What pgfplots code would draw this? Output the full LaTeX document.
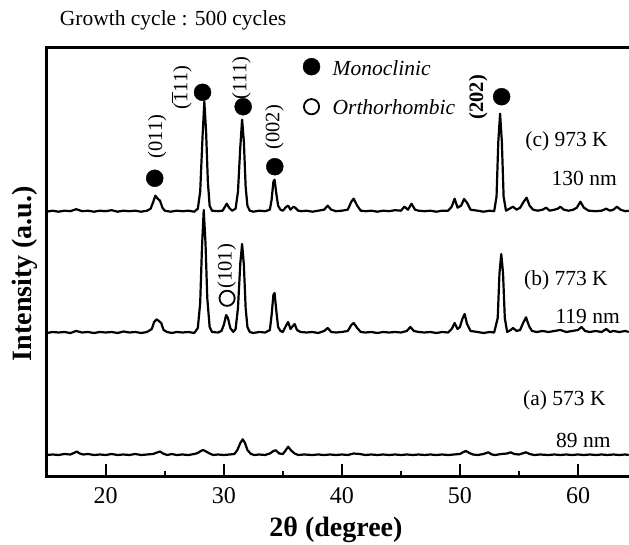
\documentclass[border=0pt]{standalone}
\usepackage{pgfplots}
\usepackage{pgfplotstable}
\pgfplotsset{compat=1.18}
\usepackage{fontspec}
\setmainfont{Liberation Serif}

\pgfplotstableread{
x y
15.0 0
15.5 1
16.0 0
16.5 1
17.0 0.5
17.5 2.5
18.0 0.5
18.5 1
19.0 0
19.5 1
20.0 0.5
20.5 1.5
21.0 0
21.5 1
22.0 0.5
22.5 1
23.0 0
23.5 1
23.8 3
24.0 9
24.2 16
24.4 13
24.6 11
24.8 4
25.0 1
25.5 0
26.0 1
26.5 0.5
27.0 1
27.5 0
27.8 3
28.0 20
28.2 75
28.35 110
28.5 80
28.65 30
28.8 6
29.0 1
29.5 0.5
29.9 1
30.1 5
30.25 8
30.45 4
30.7 1
31.0 3
31.2 20
31.4 65
31.55 92
31.7 70
31.85 25
32.0 6
32.2 1
32.5 0
33.0 1
33.5 0.5
33.9 2
34.05 12
34.2 30
34.3 32
34.45 18
34.6 6
34.8 2
35.0 1
35.3 5
35.45 6
35.65 2
35.9 5
36.05 4
36.3 1
36.6 0.5
37.0 1
37.5 0
38.0 1
38.5 2
38.8 6
39.1 2
39.5 0.5
40.0 1
40.5 2
40.8 10
41.0 13
41.3 6
41.6 1
42.0 0.5
42.5 1
43.0 0
43.5 1
44.0 0.5
44.5 1.5
45.0 1
45.3 5
45.6 2
45.9 8
46.2 2
46.5 1
47.0 0.5
47.5 1
48.0 0
48.5 1
49.0 1
49.3 5
49.55 13
49.8 4
50.1 6
50.35 12.7
50.6 9
50.9 2
51.5 1
52.0 0
52.5 1
52.9 0.5
53.1 15
53.25 70
53.4 98
53.55 70
53.7 15
53.9 1
54.2 3
54.5 5
54.8 2
55.1 4
55.4 10
55.65 14
55.9 6
56.2 2
56.6 1
57.0 2
57.3 4
57.6 1
58.0 2
58.3 3
58.5 5
58.8 2
59.2 1
59.6 2
59.9 4
60.2 10
60.5 4
60.9 1
61.5 0.5
62.0 1
62.4 3
62.7 1
63.0 2
63.3 5
63.6 2
64.0 0.5
64.3 1
}\datac

\pgfplotstableread{
x y
15.0 0
15.5 1
16 0.5
16.5 1
17 0
17.5 2
18 0.5
18.5 1
19 0
19.5 1
20 0.5
20.5 1
21 0
21.5 1.5
22 0.5
22.5 1
23 0
23.5 1
23.9 4
24.1 11
24.3 13.7
24.5 12
24.7 10
24.9 3
25.2 1
25.6 0
26 1
26.5 0.5
27 1
27.5 0
27.8 5
28.0 30
28.15 85
28.3 123
28.45 90
28.6 35
28.8 6
29.0 1
29.5 0.5
29.8 2
30.0 8
30.2 18
30.35 15
30.55 5
30.8 1
31.0 4
31.2 25
31.4 70
31.55 89
31.7 68
31.85 25
32.0 6
32.2 1
32.5 0
33 1
33.5 0.5
33.9 3
34.05 18
34.2 38
34.3 40
34.45 22
34.6 6
34.8 2
35.0 1
35.3 8
35.45 11
35.65 4
35.85 7
36.0 9
36.2 3
36.5 1
37 0.5
37.5 1
38 0
38.5 2
38.8 5
39.1 1
39.5 0.5
40 1
40.5 2
40.8 8
41.0 10
41.3 5
41.6 1
42 0.5
42.5 1
43 0
43.5 1
44 0.5
44.5 1
45 0.5
45.5 2
45.8 6
46.1 2
46.5 1
47 0.5
47.5 1
48 0
48.5 1
49 0.5
49.3 4
49.55 10
49.8 4
50.0 6
50.2 14
50.4 19
50.6 9
50.9 2
51.5 1
52 0
52.5 1
52.9 0.5
53.2 15
53.35 60
53.5 79
53.65 60
53.8 15
54.0 1
54.3 3
54.5 5
54.8 2
55.1 3
55.35 10
55.6 15.7
55.85 7
56.1 2
56.5 1
57 2
57.5 1
58 2
58.5 3
59 1
59.5 2
60 3
60.3 6
60.6 2
61 1
61.5 2
62 1
62.4 4
62.7 1
63 2
63.5 1
64 2
64.3 1
}\datab

\pgfplotstableread{
x y
15 0
15.5 0.5
16 0
16.5 1
17 0.5
17.3 2
17.55 3.5
17.8 1.5
18.1 0.5
18.5 1
19 0
19.5 0.5
20 0
20.5 1
21 0
21.5 0.5
22 0
22.5 1
23 0
23.5 0.5
24 1
24.35 2.5
24.6 3.5
24.85 1.5
25.2 0
25.6 1
26 0
26.5 0.5
27 0
27.5 1
27.8 2
28.05 4
28.25 5
28.5 3.5
28.8 1.5
29.1 0
29.5 0.5
30 0
30.5 0.5
30.9 1
31.15 5
31.4 12
31.6 15.7
31.8 12
32.0 5
32.3 1
32.6 0
33 0.5
33.5 0
33.9 1.5
34.2 4
34.4 4.7
34.7 1.5
35.0 1
35.2 4
35.45 8.3
35.7 4.5
36.0 1.5
36.3 0
36.8 0.5
37.5 0
38 0.5
38.5 0
39 0.5
39.5 0
40 0.5
40.5 0
41 1.5
41.5 1
42 0
42.5 0.5
43 0
43.5 0.5
44 0
44.5 0.5
45 0
45.5 0.5
46 0
46.5 0.5
47 0
47.5 0.5
48 0
48.5 0.5
49 0
49.5 0.5
50 1
50.3 3
50.5 4
50.8 2
51.1 0.5
51.5 0
52 1
52.4 2.7
52.7 0.5
53 0
53.5 1
54 1.5
54.3 2.7
54.6 1
55 0.5
55.4 2
55.6 2.7
55.9 1
56.3 0
56.8 0.5
57.5 0
58 0.5
58.5 0
59 0.5
59.5 0
60 0.5
60.5 0
61 0.5
61.5 0
62 0.5
62.5 0
63 0.5
63.5 0
64 0.5
64.3 0
}\dataa

\newcommand{\txt}{\fontsize{21.5}{24}\selectfont}
\newcommand{\rtxt}{\fontsize{20.5}{24}\selectfont}

\begin{document}
\begin{tikzpicture}
\begin{axis}[
  name=main,
  scale only axis,
  width=582.3pt, height=429.4pt,
  xmin=15, xmax=64.32, ymin=0, ymax=429.4,
  clip=false,
  axis line style={draw=none},
  xtick={20,30,40,50,60},
  minor xtick={25,35,45,55},
  xtick pos=left,
  ytick=\empty,
  tick align=inside,
  major tick length=12.7pt,
  minor tick length=6pt,
  every tick/.style={black, line width=1.9pt},
  /pgf/number format/assume math mode=true,
  xticklabel style={font=\fontsize{24}{24}\selectfont, yshift=-7pt},
]
\draw[line width=2.8pt, line cap=rect] (rel axis cs:1,1) -- (rel axis cs:0,1) -- (rel axis cs:0,0) -- (rel axis cs:1,0);

\addplot[black, line width=2.2pt, line join=round] table[x=x, y expr=\thisrow{y}+265] {\datac};
\addplot[black, line width=2.2pt, line join=round] table[x=x, y expr=\thisrow{y}+143.7] {\datab};
\addplot[black, line width=2.2pt, line join=round] table[x=x, y expr=\thisrow{y}+21.7] {\dataa};

% phase markers
\addplot[only marks, mark=*, mark size=8.5pt, black] coordinates {
  (24.15,298.4) (28.2,384.4) (31.64,370) (34.32,310) (53.53,380) (37.43,410)};
\addplot[only marks, mark=o, mark size=7.6pt, black, mark options={line width=1.8pt}] coordinates {
  (30.28,178.4) (37.43,370)};

% reflection labels
\node[rotate=90, anchor=west, inner sep=0pt, font=\rtxt] at (axis cs:24.35,318) {(011)};
\node[rotate=90, anchor=west, inner sep=0pt, font=\rtxt] at (axis cs:26.45,367) {($\overline{\mbox{1}}$11)};
\node[rotate=90, anchor=west, inner sep=0pt, font=\rtxt] at (axis cs:31.5,377) {(111)};
\node[rotate=90, anchor=west, inner sep=0pt, font=\rtxt] at (axis cs:34.3,327) {(002)};
\node[rotate=90, anchor=west, inner sep=0pt, font=\rtxt\bfseries] at (axis cs:51.55,357) {(202)};
\node[rotate=90, anchor=west, inner sep=0pt, font=\rtxt] at (axis cs:30.25,188) {(101)};

% legend
\node[anchor=west, inner sep=0pt, font=\txt\itshape] at (axis cs:39.2,409) {Monoclinic};
\node[anchor=west, inner sep=0pt, font=\txt\itshape] at (axis cs:39.2,370) {Orthorhombic};

% sample labels
\node[anchor=east, inner sep=0pt, font=\txt] at (axis cs:62.54,335) {(c) 973 K};
\node[anchor=east, inner sep=0pt, font=\txt] at (axis cs:63.3,298.4) {130 nm};
\node[anchor=east, inner sep=0pt, font=\txt] at (axis cs:62.54,196.7) {(b) 773 K};
\node[anchor=east, inner sep=0pt, font=\txt] at (axis cs:63.56,160) {119 nm};
\node[anchor=east, inner sep=0pt, font=\txt] at (axis cs:62.35,76.7) {(a) 573 K};
\node[anchor=east, inner sep=0pt, font=\txt] at (axis cs:62.77,36.7) {89 nm};

% title and axis labels
\node[anchor=west, inner sep=0pt, font=\txt] at (axis cs:16.1,456.7) {Growth cycle : 500 cycles};
\node[rotate=90, inner sep=0pt, font=\fontsize{28}{30}\selectfont\bfseries] at (axis cs:13.14,203) {Intensity (a.u.)};
\node[inner sep=0pt, font=\fontsize{28}{30}\selectfont\bfseries] at (axis cs:39.5,-53.3) {2θ (degree)};
\end{axis}
\pgfresetboundingbox
\path[use as bounding box] ([shift={(-46.7pt,-68.3pt)}]main.south west) rectangle ([shift={(0pt,47.3pt)}]main.north east);
\end{tikzpicture}
\end{document}
